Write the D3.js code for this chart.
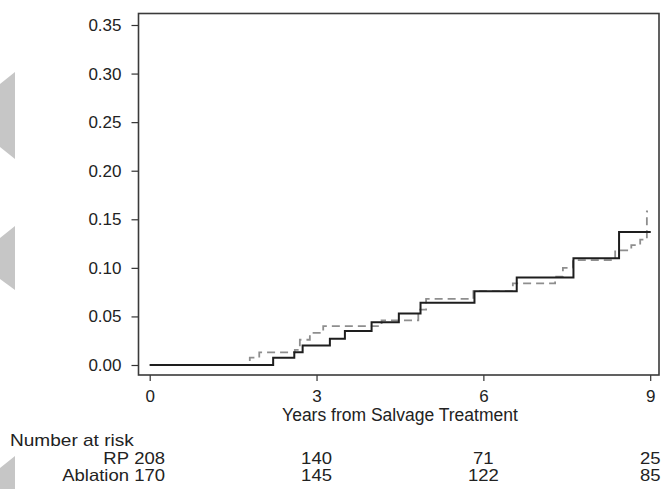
<!DOCTYPE html>
<html>
<head>
<meta charset="utf-8">
<script src="https://cdn.jsdelivr.net/npm/d3@7"></script>
<style>
  body { margin: 0; background: #fff; }
  text { font-family: "Liberation Sans", Arial, sans-serif; fill: #222; }
</style>
</head>
<body>
<div id="chart"></div>
<script>
// cumulative incidence
const solidTimes = [0, 2.22, 2.60, 2.75, 3.24, 3.51, 3.99, 4.48, 4.87, 5.84, 6.60, 7.62, 8.44, 9.01];
const solidRisk  = [0, 0.0075, 0.013, 0.020, 0.027, 0.035, 0.044, 0.053, 0.064, 0.076, 0.090, 0.110, 0.137, 0.137];

const dashTimes = [0, 1.80, 1.97, 2.61, 2.70, 2.88, 3.12, 4.17, 4.83, 4.97, 5.82, 6.53, 7.29, 7.43, 7.61, 8.37, 8.66, 8.82, 8.94, 8.96];
const dashRisk  = [0, 0.0075, 0.013, 0.0155, 0.026, 0.033, 0.040, 0.046, 0.057, 0.068, 0.076, 0.084, 0.091, 0.100, 0.108, 0.118, 0.1235, 0.129, 0.158, 0.158];

const xTicks = [0, 3, 6, 9];
const yTicks = [0, 0.05, 0.10, 0.15, 0.20, 0.25, 0.30, 0.35];

const riskGroups = ['RP', 'Ablation'];
const rpAtRisk = [208, 140, 71, 25];
const ablationAtRisk = [170, 145, 122, 85];

const width = 662, height = 489;
const frame = { left: 138.5, right: 659, top: 13.5, bottom: 375 };
const fs = '17px';
const stretch = 1.12; // table text in the original is a bit wider than Arial

const svg = d3.select('#chart').append('svg')
  .attr('width', width)
  .attr('height', height);

// grey page decorations on the left edge
const deco = [
  [[0, 84], [15, 72], [15, 159], [0, 147]],
  [[0, 238], [15, 226], [15, 290], [0, 279]],
  [[0, 468], [15, 456], [15, 489], [0, 489]]
];
svg.selectAll('.deco').data(deco).enter().append('polygon')
  .attr('points', d => d.map(p => p.join(',')).join(' '))
  .attr('fill', '#c6c6c6');

const x = d3.scaleLinear().domain([0, 9]).range([149.7, 650.2]);
const y = d3.scaleLinear().domain([0, 0.35]).range([365, 25]);

// y axis
const yAxis = svg.append('g')
  .attr('transform', `translate(${frame.left},0)`)
  .call(d3.axisLeft(y).tickValues(yTicks).tickFormat(d3.format('.2f')).tickSize(7).tickPadding(10).tickSizeOuter(0));
yAxis.select('.domain').remove();
yAxis.selectAll('line').attr('stroke', '#333').attr('stroke-width', 1.2);
yAxis.selectAll('text').style('font-size', fs).attr('fill', '#222');

// x axis
const xAxis = svg.append('g')
  .attr('transform', `translate(0,${frame.bottom})`)
  .call(d3.axisBottom(x).tickValues(xTicks).tickFormat(d3.format('d')).tickSize(6).tickPadding(9).tickSizeOuter(0));
xAxis.select('.domain').remove();
xAxis.selectAll('line').attr('stroke', '#333').attr('stroke-width', 1.2);
xAxis.selectAll('text').style('font-size', fs).attr('fill', '#222');

svg.append('text')
  .attr('x', (x(0) + x(9)) / 2)
  .attr('y', 421)
  .attr('text-anchor', 'middle')
  .style('font-size', '17.5px')
  .text('Years from Salvage Treatment');

// step curves
const line = d3.line()
  .x(d => x(d[0]))
  .y(d => y(d[1]))
  .curve(d3.curveStepAfter);

svg.append('path')
  .datum(d3.zip(dashTimes, dashRisk))
  .attr('d', line)
  .attr('fill', 'none')
  .attr('stroke', '#8e8e8e')
  .attr('stroke-width', 1.8)
  .attr('stroke-dasharray', '8,5');

svg.append('path')
  .datum(d3.zip(solidTimes, solidRisk))
  .attr('d', line)
  .attr('fill', 'none')
  .attr('stroke', '#1e1e1e')
  .attr('stroke-width', 2);

// plot frame
svg.append('rect')
  .attr('x', frame.left)
  .attr('y', frame.top)
  .attr('width', frame.right - frame.left)
  .attr('height', frame.bottom - frame.top)
  .attr('fill', 'none')
  .attr('stroke', '#3a3a3a')
  .attr('stroke-width', 1.6);

function widen(sel) {
  sel.each(function() {
    const w = this.getComputedTextLength();
    d3.select(this).attr('textLength', w * stretch).attr('lengthAdjust', 'spacingAndGlyphs');
  });
}

// number at risk table
svg.append('text')
  .attr('x', 10)
  .attr('y', 446)
  .style('font-size', '17px')
  .text('Number at risk')
  .call(widen);

const rows = [rpAtRisk, ablationAtRisk];
rows.forEach((vals, i) => {
  const rowY = 464 + i * 17;
  svg.append('text')
    .attr('x', 129)
    .attr('y', rowY)
    .attr('text-anchor', 'end')
    .style('font-size', '16.5px')
    .text(riskGroups[i])
    .call(widen);
  svg.selectAll('.risk' + i)
    .data(vals)
    .enter().append('text')
    .attr('x', (d, j) => x(xTicks[j]))
    .attr('y', rowY)
    .attr('text-anchor', 'middle')
    .style('font-size', '16.5px')
    .text(d => d)
    .call(widen);
});
</script>
</body>
</html>
